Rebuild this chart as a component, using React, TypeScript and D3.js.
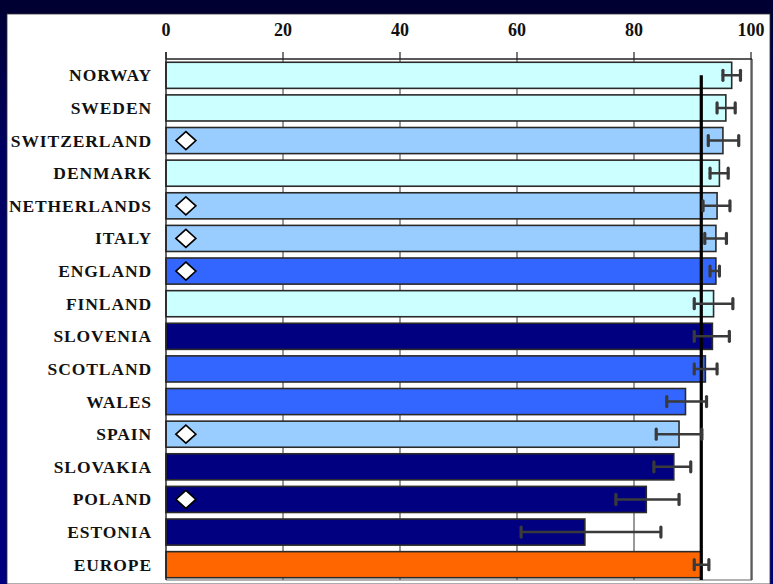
import React from "react";
import * as d3 from "d3";

// Countries, top to bottom
const countries = [
  "NORWAY", "SWEDEN", "SWITZERLAND", "DENMARK", "NETHERLANDS", "ITALY",
  "ENGLAND", "FINLAND", "SLOVENIA", "SCOTLAND", "WALES", "SPAIN",
  "SLOVAKIA", "POLAND", "ESTONIA", "EUROPE",
];
// Bar values (%)
const values = [
  96.7, 95.7, 95.2, 94.6, 94.2, 94.0, 94.0, 93.6, 93.4, 92.2, 88.8, 87.7,
  86.8, 82.1, 71.6, 91.5,
];
// Confidence interval bounds
const lower = [
  95.2, 94.2, 92.7, 93.0, 91.8, 92.1, 93.0, 90.3, 90.3, 90.3, 85.6, 83.8,
  83.4, 76.9, 60.7, 90.3,
];
const upper = [
  98.2, 97.3, 97.9, 96.1, 96.4, 95.8, 94.6, 96.9, 96.3, 94.2, 92.4, 91.6,
  89.7, 87.7, 84.6, 92.8,
];
// Colour group per country
const groups = [
  "A", "A", "B", "A", "B", "B", "C", "A", "D", "C", "C", "B", "D", "D", "D", "E",
];
const groupColors: Record<string, string> = {
  A: "#CCFFFF",
  B: "#99CCFF",
  C: "#3366FF",
  D: "#000080",
  E: "#FF6600",
};
// Countries flagged with a diamond marker
const flagged = ["SWITZERLAND", "NETHERLANDS", "ITALY", "ENGLAND", "SPAIN", "POLAND"];
const flagValue = 3.4;
const xTicks = [0, 20, 40, 60, 80, 100];
const referenceCountry = "EUROPE";

const W = 773;
const H = 584;
const plot = { left: 166, right: 752, top: 59, bottom: 581 };

export default function App() {
  const x = d3.scaleLinear().domain([0, 100]).range([plot.left, plot.right - 1]);
  const y = d3
    .scaleBand<string>()
    .domain(countries)
    .range([plot.top, plot.bottom])
    .paddingInner(0.2)
    .paddingOuter(0.1);
  const bw = y.bandwidth();
  const refX = x(values[countries.indexOf(referenceCountry)]);
  const capH = 9;

  return (
    <svg
      width={W}
      height={H}
      style={{ position: "absolute", left: 0, top: 0 }}
      fontFamily="'Liberation Serif', 'Times New Roman', serif"
    >
      <defs>
        <linearGradient id="bg" x1="0" y1="0" x2="0" y2="1">
          <stop offset="0" stopColor="#000033" />
          <stop offset="0.25" stopColor="#000060" />
          <stop offset="1" stopColor="#000080" />
        </linearGradient>
      </defs>
      <rect x={0} y={0} width={W} height={H} fill="url(#bg)" />
      <rect x={0} y={0} width={W} height={14} fill="#000033" />
      {/* white panel */}
      <rect x={7} y={14} width={763} height={H - 14} fill="#ffffff" stroke="#333" strokeWidth={0.8} />

      {/* vertical gridlines */}
      {xTicks.slice(1).map((t) => (
        <line
          key={"g" + t}
          x1={x(t)}
          x2={x(t)}
          y1={plot.top}
          y2={plot.bottom - 1}
          stroke="#555"
          strokeWidth={1.2}
        />
      ))}

      {/* frame */}
      <line x1={plot.left} x2={plot.right} y1={plot.bottom - 1} y2={plot.bottom - 1} stroke="#666" strokeWidth={1.2} />
      <line x1={plot.right} x2={plot.right} y1={plot.top} y2={plot.bottom - 1} stroke="#333" strokeWidth={1.2} />

      {/* bars */}
      {countries.map((c, i) => (
        <rect
          key={c}
          x={x(0)}
          y={y(c)!}
          width={x(values[i]) - x(0)}
          height={bw}
          fill={groupColors[groups[i]]}
          stroke="#2a2a2a"
          strokeWidth={1.6}
        />
      ))}

      {/* top axis */}
      <line x1={plot.left} x2={plot.right} y1={plot.top} y2={plot.top} stroke="#222" strokeWidth={1.4} />
      <line x1={plot.left} x2={plot.left} y1={plot.top - 7} y2={plot.bottom - 1} stroke="#222" strokeWidth={1.4} />
      {xTicks.map((t) => (
        <g key={"t" + t}>
          <line x1={x(t)} x2={x(t)} y1={plot.top - 7} y2={plot.top} stroke="#222" strokeWidth={1.2} />
          <text
            x={x(t)}
            y={36}
            textAnchor="middle"
            fontSize={18}
            fontWeight="bold"
            fill="#111"
          >
            {t}
          </text>
        </g>
      ))}

      {/* country labels */}
      {countries.map((c) => (
        <text
          key={"l" + c}
          x={152}
          y={y(c)! + bw / 2 + 6}
          textAnchor="end"
          fontSize={17.5}
          fontWeight="bold"
          letterSpacing={0.9}
          fill="#111"
        >
          {c}
        </text>
      ))}

      {/* reference line */}
      <line
        x1={refX}
        x2={refX}
        y1={y(countries[0])! + bw / 2}
        y2={plot.bottom - 1}
        stroke="#000"
        strokeWidth={3.2}
      />

      {/* error bars */}
      {countries.map((c, i) => {
        const cy = y(c)! + bw / 2;
        return (
          <g key={"e" + c} stroke="#3a3a3a" strokeLinecap="round">
            <line x1={x(lower[i])} x2={x(upper[i])} y1={cy} y2={cy} strokeWidth={2.6} />
            <line x1={x(lower[i])} x2={x(lower[i])} y1={cy - capH / 2 - 0.5} y2={cy + capH / 2 + 0.5} strokeWidth={3.2} />
            <line x1={x(upper[i])} x2={x(upper[i])} y1={cy - capH / 2 - 0.5} y2={cy + capH / 2 + 0.5} strokeWidth={3.2} />
          </g>
        );
      })}

      {/* diamond markers */}
      {countries
        .filter((c) => flagged.includes(c))
        .map((c) => {
          const cx = x(flagValue);
          const cy = y(c)! + bw / 2;
          const hw = 10;
          const hh = 9;
          return (
            <path
              key={"d" + c}
              d={`M${cx - hw},${cy} L${cx},${cy - hh} L${cx + hw},${cy} L${cx},${cy + hh} Z`}
              fill="#fff"
              stroke="#000"
              strokeWidth={1.6}
            />
          );
        })}
    </svg>
  );
}
